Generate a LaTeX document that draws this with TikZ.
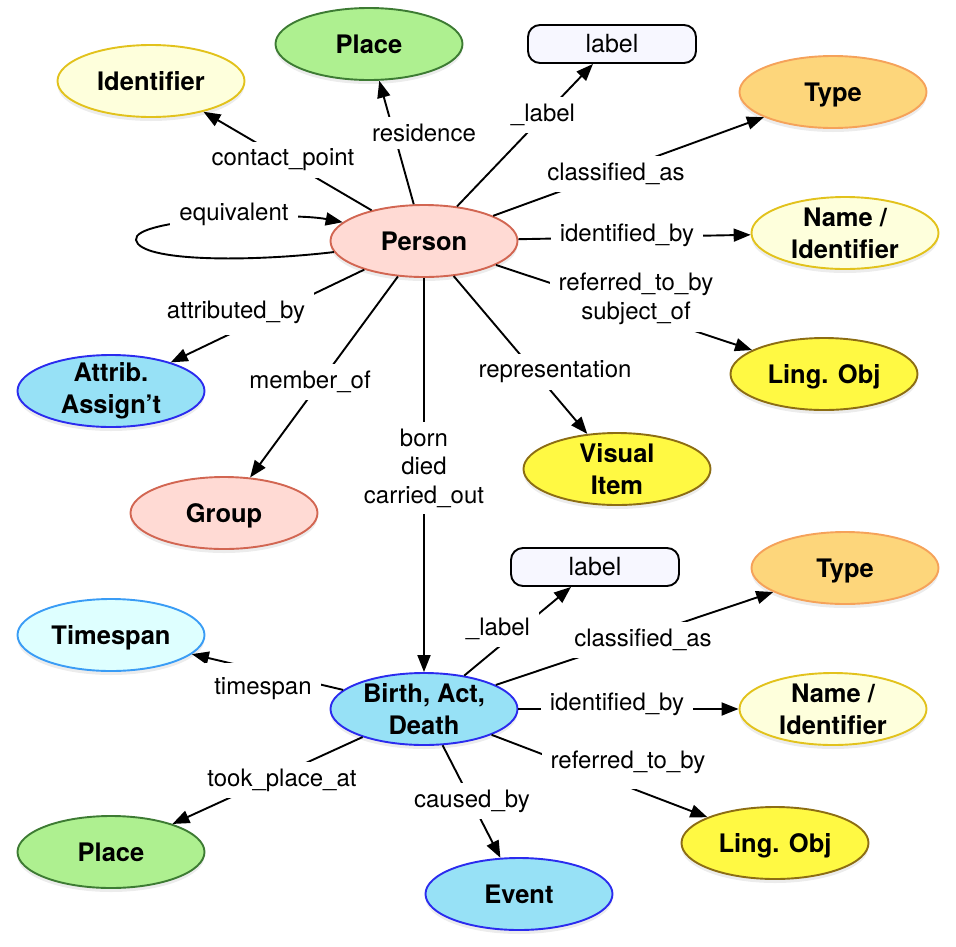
\documentclass[tikz,border=0pt]{standalone}
\usepackage{fontspec}
\setmainfont{TeX Gyre Heros}
\usetikzlibrary{shapes.geometric,arrows.meta,shadows}
\definecolor{ylF}{HTML}{FEFFDC}
\definecolor{ylD}{HTML}{E2C21C}
\definecolor{grF}{HTML}{AEF090}
\definecolor{grD}{HTML}{3D7B33}
\definecolor{orF}{HTML}{FDD67B}
\definecolor{orD}{HTML}{F5A25A}
\definecolor{pkF}{HTML}{FFDAD4}
\definecolor{pkD}{HTML}{D26652}
\definecolor{blF}{HTML}{97E1F6}
\definecolor{blD}{HTML}{2B2BEE}
\definecolor{cyF}{HTML}{DEFFFF}
\definecolor{cyD}{HTML}{3A9CF5}
\definecolor{yeF}{HTML}{FFF943}
\definecolor{yeD}{HTML}{8C6D14}
\definecolor{lbF}{HTML}{F7F7FF}
\begin{document}
\begin{tikzpicture}[x=1pt,y=-1pt,
 ent/.style={ellipse, minimum width=187pt, minimum height=72pt, inner sep=0pt, line width=1.9pt,
   drop shadow={shadow xshift=0pt, shadow yshift=-4pt, opacity=0.15}},
 yl/.style={ent, fill=ylF, draw=ylD},
 gr/.style={ent, fill=grF, draw=grD},
 or/.style={ent, fill=orF, draw=orD},
 pk/.style={ent, fill=pkF, draw=pkD},
 bl/.style={ent, fill=blF, draw=blD},
 cy/.style={ent, fill=cyF, draw=cyD},
 ye/.style={ent, fill=yeF, draw=yeD},
 lit/.style={rectangle, rounded corners=12pt, minimum width=168pt, minimum height=38pt, line width=1.9pt,
   draw=black, fill=lbF, inner sep=0pt, font=\fontsize{25}{30}\selectfont},
 etxt/.style={font=\bfseries\fontsize{25.5}{32}\selectfont, align=center, inner sep=0pt},
 one/.style={etxt, text depth=0pt},
 elab/.style={fill=white, font=\fontsize{24}{28.5}\selectfont, align=center, inner xsep=9pt, inner ysep=7pt},
 arr/.style={line width=1.9pt, -{Triangle[length=17pt,width=13pt]}}]
\useasboundingbox (0,0) rectangle (956,946);

% entity nodes
\node[yl] (ident) at (151,81) {};
\node[one] (ident-t) at (ident) {Identifier};
\node[gr] (place1) at (369,44) {};
\node[one] (place1-t) at (place1) {Place};
\node[lit] (lab1) at (612,44) {label};
\node[or] (type1) at (833,92) {};
\node[one] (type1-t) at (type1) {Type};
\node[pk] (person) at (424,241) {};
\node[one] (person-t) at (person) {Person};
\node[yl] (name1) at (845,233) {};
\node[etxt] (name1-t) at (name1) {Name /\\Identifier};
\node[bl] (attrib) at (111,391) {};
\node[etxt] (attrib-t) at (attrib) {Attrib.\\Assign’t};
\node[ye] (ling1) at (824,374) {};
\node[one] (ling1-t) at (ling1) {Ling. Obj};
\node[ye] (visual) at (617,469) {};
\node[etxt] (visual-t) at (visual) {Visual\\Item};
\node[pk] (group) at (224,513) {};
\node[one] (group-t) at (group) {Group};
\node[lit] (lab2) at (595,567) {label};
\node[or] (type2) at (845,568) {};
\node[one] (type2-t) at (type2) {Type};
\node[cy] (timespan) at (111,635) {};
\node[one] (timespan-t) at (timespan) {Timespan};
\node[bl] (birth) at (424,709) {};
\node[etxt] (birth-t) at (birth) {Birth, Act,\\Death};
\node[yl] (name2) at (833,709) {};
\node[etxt] (name2-t) at (name2) {Name /\\Identifier};
\node[ye] (ling2) at (775,843) {};
\node[one] (ling2-t) at (ling2) {Ling. Obj};
\node[gr] (place2) at (111,852) {};
\node[one] (place2-t) at (place2) {Place};
\node[bl] (event) at (519,894) {};
\node[one] (event-t) at (event) {Event};

% connectors from Person
\draw[arr] (person) -- (ident);
\draw[arr] (person) -- (place1);
\draw[arr] (person) -- (lab1);
\draw[arr] (person) -- (type1);
\draw[arr] (person) -- (name1);
\draw[arr] (person) -- (ling1);
\draw[arr] (person) -- (visual);
\draw[arr] (person) -- (birth);
\draw[arr] (person) -- (group);
\draw[arr] (person) -- (attrib);
\draw[arr] (person.187) .. controls (250,262) and (140,262) .. (136,240)
   .. controls (132,218) and (290,212) .. (person.167);

% connectors from Birth
\draw[arr] (birth) -- (lab2);
\draw[arr] (birth) -- (type2);
\draw[arr] (birth) -- (name2);
\draw[arr] (birth) -- (ling2);
\draw[arr] (birth) -- (event);
\draw[arr] (birth) -- (place2);
\draw[arr] (birth) -- (timespan);

% connector labels
\node[elab] (l-cp) at (283,160) {contact\_point};
\node[elab] (l-res) at (424,133) {residence};
\node[elab] (l-lab1) at (543,115) {\_label};
\node[elab] (l-cl1) at (616,174) {classified\_as};
\node[elab] (l-id1) at (627,235) {identified\_by};
\node[elab] (l-ref1) at (636,299) {referred\_to\_by\\subject\_of};
\node[elab] (l-rep) at (555,372) {representation};
\node[elab] (l-born) at (424,468) {born\\died\\carried\_out};
\node[elab] (l-mem) at (310,382) {member\_of};
\node[elab, inner ysep=12pt] (l-att) at (236,312) {attributed\_by};
\node[elab] (l-eq) at (234,214) {equivalent};
\node[elab] (l-lab2) at (498,629) {\_label};
\node[elab] (l-cl2) at (643,640) {classified\_as};
\node[elab] (l-id2) at (617,704) {identified\_by};
\node[elab, inner ysep=16pt] (l-ref2) at (628,762) {referred\_to\_by};
\node[elab] (l-tpa) at (282,780) {took\_place\_at};
\node[elab, inner ysep=15pt] (l-ts) at (263,689) {timespan};
\node[elab] (l-cb) at (472,801) {caused\_by};
\end{tikzpicture}
\end{document}
